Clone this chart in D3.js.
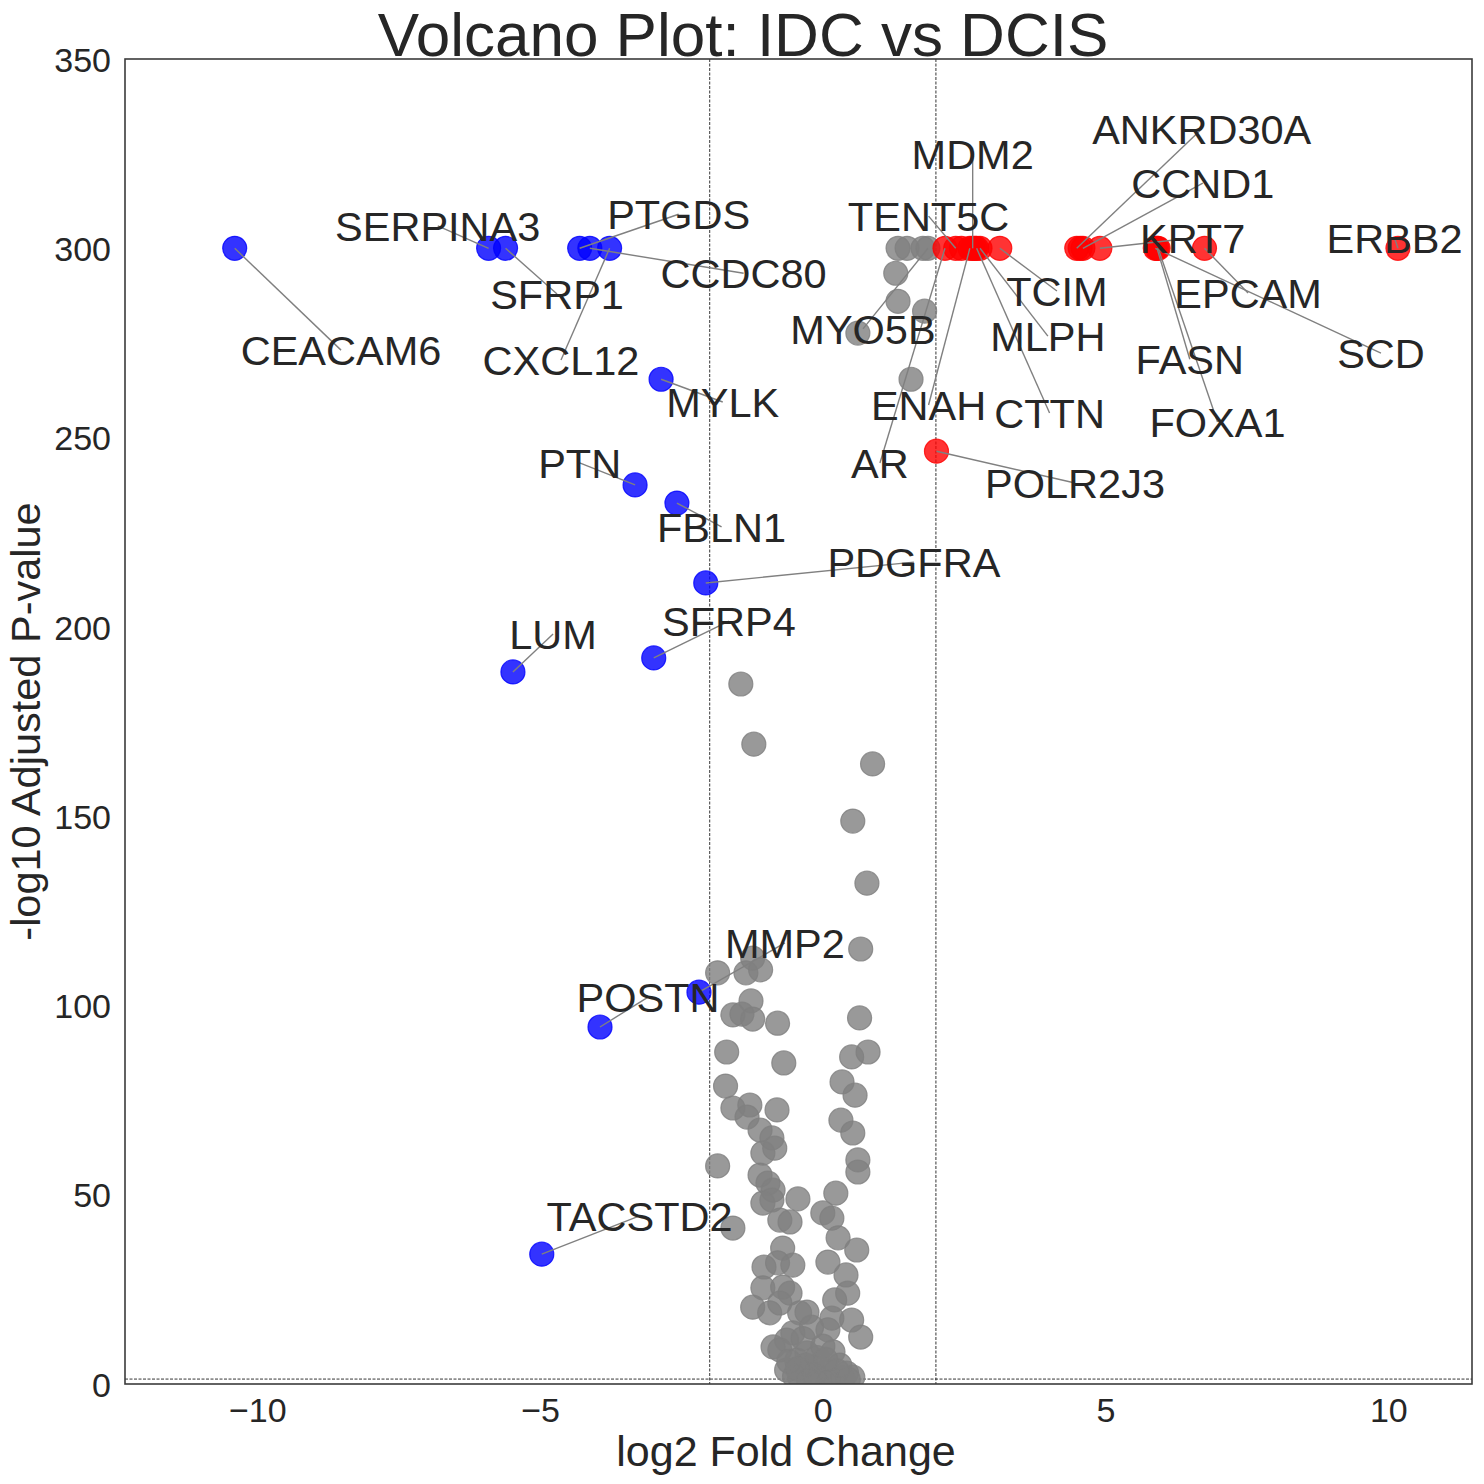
<!DOCTYPE html>
<html>
<head>
<meta charset="utf-8">
<script src="https://cdn.jsdelivr.net/npm/d3@7"></script>
<style>
  html, body { margin: 0; padding: 0; background: #fff; }
  svg { display: block; font-family: "Liberation Sans", Arial, "Helvetica", sans-serif; }
</style>
</head>
<body>
<svg id="chart" width="1484" height="1484"></svg>
<script>
// ---------- DATA ----------
// labelled genes
const genes = ["CEACAM6","SERPINA3","SFRP1","PTGDS","CCDC80","CXCL12","MYLK","PTN","FBLN1","PDGFRA","SFRP4","LUM","MMP2","POSTN","TACSTD2",
  "MDM2","ANKRD30A","CCND1","TENT5C","KRT7","ERBB2","TCIM","EPCAM","MYO5B","MLPH","SCD","FASN","ENAH","CTTN","FOXA1","AR","POLR2J3"];
const geneLog2FC = [-10.40,-5.91,-5.61,-4.30,-4.12,-3.77,-2.86,-3.32,-2.58,-2.07,-2.99,-5.48,-2.19,-3.94,-4.97,
  2.65,4.49,4.60,2.35,4.90,10.17,3.13,6.75,1.86,2.78,5.88,5.91,2.60,2.72,5.93,2.16,2.01];
const geneNegLogP = [300,300,300,300,300,300,265.4,237.5,232.7,211.6,191.8,188.1,103.5,94.3,34.3,
  300,300,300,300,300,300,300,300,300,300,300,300,300,300,300,300,246.4];
// where the text labels were placed (data units)
const labelLog2FC = [-8.52,-6.81,-4.70,-2.55,-1.40,-4.63,-1.77,-4.30,-1.79,1.61,-1.66,-4.77,-0.67,-3.09,-3.24,
  2.65,6.70,6.72,1.87,6.54,10.11,4.14,7.52,0.71,3.98,9.87,6.49,1.87,4.01,6.98,1.01,4.46];
const labelNegLogP = [273.1,305.9,287.9,309.0,293.4,270.5,259.4,243.3,226.4,217.1,201.5,198.1,116.5,102.2,44.4,
  324.9,331.5,317.2,308.5,302.7,302.7,288.7,288.2,278.7,276.8,272.3,270.7,258.6,256.5,254.1,243.3,238.0];

// additional unlabelled genes
const otherLog2FC = [2.45,2.69,4.55,1.33,1.49,1.77,1.29,1.33,1.80,0.62,1.56,
  -1.45,-1.22,0.88,0.53,0.78,0.67,
  -1.86,-1.36,-1.24,-1.10,-1.27,-1.59,-1.43,-1.24,-0.80,0.65,-1.70,-0.69,0.51,0.80,-1.72,0.34,0.57,-1.59,-1.29,-0.81,0.32,
  -1.34,-1.11,-0.90,0.53,-1.06,-0.85,0.62,0.62,-1.86,-1.11,-0.97,-0.88,-1.06,-0.90,-0.44,0.23,0.00,0.16,-0.76,-0.58,-1.59,
  0.27,0.60,-0.71,-1.04,-0.80,-0.53,0.09,0.41,-1.06,-0.71,-0.58,0.21,0.44,-1.24,-0.94,-0.76,-0.41,-0.28,0.16,0.09,0.51,0.67,
  -0.76,-0.53,-0.64,0.18,-0.28,-0.64,-0.18,0.42,0.07,-0.41,-0.05,0.53,-0.88,-0.46,
  -0.30,-0.50,0.20,0.35,-0.10,0.00,-0.35,-0.20,0.30,-0.60,0.10,-0.15,0.25,-0.45,0.45,0.05,-0.25];
const otherNegLogP = [300,300,300,300,300,300,293.4,286.0,283.4,277.6,265.4,
  184.9,169.0,163.8,148.7,132.3,114.9,
  108.6,108.6,112.5,109.4,101.2,97.5,97.7,96.4,95.3,96.7,87.7,84.8,86.4,87.7,78.7,79.8,76.3,72.9,73.7,72.4,69.7,
  70.5,67.1,65.0,66.3,61.0,62.3,59.2,56.0,57.6,55.2,53.1,51.2,47.8,48.6,48.9,50.4,45.2,43.8,43.3,42.8,41.2,
  38.6,35.4,35.9,30.9,32.0,31.4,32.2,28.8,25.4,25.6,24.0,22.2,24.0,20.3,18.8,21.4,18.8,19.0,17.4,14.3,16.9,12.4,
  9.0,13.5,11.6,8.5,8.2,3.7,4.5,2.9,3.2,1.8,1.6,1.8,9.8,6.3,
  5.0,2.0,1.0,1.5,7.0,10.0,12.0,15.0,5.0,6.0,0.5,2.5,3.5,4.0,1.2,6.5,0.8];

const xTicks = [-10,-5,0,5,10];
const yTicks = [0,50,100,150,200,250,300,350];
const fcThreshold = 2;
const pThreshold = -Math.log10(0.05);

// ---------- CHART ----------
const svg = d3.select("#chart");
const W = 1484, H = 1484;
const m = {left:125, right:12, top:59, bottom:100};
const x = d3.scaleLinear().domain([-12.34, 11.48]).range([m.left, W - m.right]);
const y = d3.scaleLinear().domain([0, 350]).range([H - m.bottom, m.top]);

const textColor = "#262626";

const points = [];
otherLog2FC.forEach((v,i) => points.push({fc:v, p:otherNegLogP[i]}));
geneLog2FC.forEach((v,i) => points.push({fc:v, p:geneNegLogP[i], gene:genes[i], lx:labelLog2FC[i], ly:labelNegLogP[i]}));
function colorOf(d){
  if (d.p > pThreshold && d.fc > fcThreshold) return "red";
  if (d.p > pThreshold && d.fc < -fcThreshold) return "blue";
  return "grey";
}
points.forEach(d => d.color = colorOf(d));
const order = {grey:0, red:1, blue:1};
points.sort((a,b) => order[a.color] - order[b.color]);

// clip
svg.append("clipPath").attr("id","plotclip").append("rect")
  .attr("x", m.left).attr("y", m.top).attr("width", W-m.left-m.right).attr("height", H-m.top-m.bottom);

// threshold lines
const thr = svg.append("g").attr("clip-path","url(#plotclip)");
[-fcThreshold, fcThreshold].forEach(v => {
  thr.append("line").attr("x1", x(v)).attr("x2", x(v)).attr("y1", m.top).attr("y2", H-m.bottom)
    .attr("stroke","#000").attr("stroke-width",0.8).attr("stroke-dasharray","3,1.5");
});
thr.append("line").attr("x1", m.left).attr("x2", W-m.right).attr("y1", y(pThreshold)).attr("y2", y(pThreshold))
  .attr("stroke","#000").attr("stroke-width",0.8).attr("stroke-dasharray","3,1.5");

// points
svg.append("g").attr("clip-path","url(#plotclip)")
  .selectAll("circle").data(points).join("circle")
  .attr("cx", d => x(d.fc)).attr("cy", d => y(d.p)).attr("r", 12)
  .attr("fill", d => d.color).attr("fill-opacity", 0.8)
  .attr("stroke", d => d.color).attr("stroke-opacity", 0.8).attr("stroke-width", 1.2);

// connector lines
const labelled = points.filter(d => d.gene);
svg.append("g").selectAll("line").data(labelled).join("line")
  .attr("x1", d => x(d.fc)).attr("y1", d => y(d.p))
  .attr("x2", d => x(d.lx)).attr("y2", d => y(d.ly))
  .attr("stroke","#808080").attr("stroke-width",1.4);

// labels
const fs = 41.5;
svg.append("g").selectAll("text").data(labelled).join("text")
  .attr("x", d => x(d.lx)).attr("y", d => y(d.ly) + 0.358*fs)
  .attr("text-anchor","middle").attr("font-size", fs).attr("fill", textColor)
  .text(d => d.gene);

// axes
const xAxis = svg.append("g").attr("transform", `translate(0,${H-m.bottom})`)
  .call(d3.axisBottom(x).tickValues(xTicks).tickSize(0).tickPadding(14));
const yAxis = svg.append("g").attr("transform", `translate(${m.left},0)`)
  .call(d3.axisLeft(y).tickValues(yTicks).tickSize(0).tickPadding(14));
[xAxis, yAxis].forEach(g => {
  g.select(".domain").remove();
  g.selectAll("text").attr("font-size", 34).attr("fill", textColor).attr("font-family", '"Liberation Sans", Arial, sans-serif');
});
xAxis.selectAll("text").attr("dy", "0.71em");
yAxis.selectAll("text").attr("dy", "0.36em");

// frame
svg.append("rect").attr("x", m.left).attr("y", m.top)
  .attr("width", W-m.left-m.right).attr("height", H-m.top-m.bottom)
  .attr("fill","none").attr("stroke","#3b3b3b").attr("stroke-width",1.6);

// axis titles
svg.append("text").attr("x", 786).attr("y", 1466).attr("text-anchor","middle")
  .attr("font-size", 43).attr("fill", textColor).text("log2 Fold Change");
svg.append("text").attr("transform", `translate(40,${(m.top + H - m.bottom)/2}) rotate(-90)`)
  .attr("text-anchor","middle").attr("font-size", 41.5).attr("fill", textColor).text("-log10 Adjusted P-value");

// title
svg.append("text").attr("x", 743).attr("y", 56).attr("text-anchor","middle")
  .attr("font-size", 62).attr("fill", textColor).text("Volcano Plot: IDC vs DCIS");
</script>
</body>
</html>
